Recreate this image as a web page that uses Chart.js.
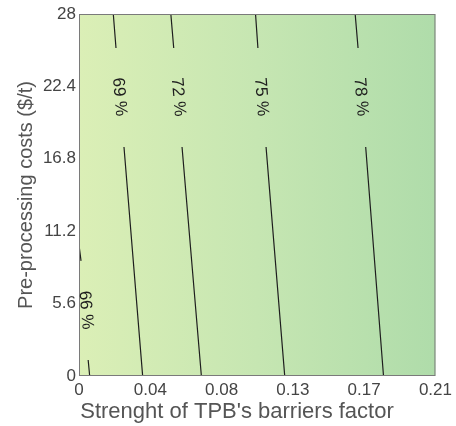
<!DOCTYPE html>
<html>
<head>
<meta charset="utf-8">
<script src="https://cdn.jsdelivr.net/npm/chart.js@4.4.1/dist/chart.umd.min.js"></script>
<style>
  html, body { margin: 0; padding: 0; background: #fff; }
  #wrap { width: 456px; height: 426px; }
</style>
</head>
<body>
<div id="wrap"><canvas id="chart"></canvas></div>
<script>
// ---- data ----
const contourLevels = ["66 %", "69 %", "72 %", "75 %", "78 %"];

// each contour: top point, label gap start, label gap end, bottom point
const contourX = [
    [0.0000, 0.0012, 0.0054, 0.0063],
    [0.0202, 0.0218, 0.0265, 0.0375],
    [0.0541, 0.0558, 0.0607, 0.0721],
    [0.1040, 0.1054, 0.1102, 0.1212],
    [0.1627, 0.1644, 0.1689, 0.1794]
];
const contourY = [
    [10.13, 8.90, 1.24, 0],
    [28, 25.37, 17.71, 0],
    [28, 25.37, 17.71, 0],
    [28, 25.37, 17.71, 0],
    [28, 25.37, 17.71, 0]
];

const labelX = [0.0040, 0.0237, 0.0583, 0.1073, 0.1660];
const labelY = [5.1, 21.58, 21.58, 21.58, 21.58];

const xTicks = [0, 0.042, 0.084, 0.126, 0.168, 0.21];
const xTickLabels = ["0", "0.04", "0.08", "0.13", "0.17", "0.21"];
const yTicks = [0, 5.6, 11.2, 16.8, 22.4, 28];
const yTickLabels = ["0", "5.6", "11.2", "16.8", "22.4", "28"];

const xTitle = "Strenght of TPB's barriers factor";
const yTitle = "Pre-processing costs ($/t)";

const FONT = "'Liberation Sans', Arial, sans-serif";

// ---- build datasets ----
function contourData(i) {
    const xs = contourX[i], ys = contourY[i];
    return [
        { x: xs[0], y: ys[0] },
        { x: xs[1], y: ys[1] },
        { x: null, y: null },
        { x: xs[2], y: ys[2] },
        { x: xs[3], y: ys[3] }
    ];
}

const datasets = contourLevels.map((lvl, i) => ({
    label: lvl,
    data: contourData(i),
    showLine: true,
    spanGaps: false,
    borderColor: "#1e1e1e",
    borderWidth: 1.2,
    pointRadius: 0,
    tension: 0
}));

// ---- plugins ----
const backgroundFill = {
    id: "backgroundFill",
    beforeDatasetsDraw(chart) {
        const { ctx, chartArea: a } = chart;
        const g = ctx.createLinearGradient(a.left, 0, a.right, 0);
        g.addColorStop(0, "#dbefb6");
        g.addColorStop(0.5, "#c6e6b2");
        g.addColorStop(1, "#afdcaa");
        ctx.save();
        ctx.fillStyle = g;
        ctx.fillRect(a.left, a.top, a.right - a.left, a.bottom - a.top);
        ctx.restore();
    },
    afterDatasetsDraw(chart) {
        const { ctx, chartArea: a } = chart;
        ctx.save();
        ctx.strokeStyle = "#7a7a7a";
        ctx.lineWidth = 1;
        ctx.strokeRect(a.left + 0.5, a.top + 0.5, a.right - a.left - 1, a.bottom - a.top - 1);
        ctx.restore();
    }
};

const contourLabels = {
    id: "contourLabels",
    afterDatasetsDraw(chart) {
        const { ctx, scales } = chart;
        ctx.save();
        ctx.font = "17px " + FONT;
        ctx.fillStyle = "#1e1e1e";
        ctx.textAlign = "center";
        ctx.textBaseline = "middle";
        contourLevels.forEach((lvl, i) => {
            const xs = contourX[i], ys = contourY[i];
            const x0 = scales.x.getPixelForValue(xs[0]), y0 = scales.y.getPixelForValue(ys[0]);
            const x1 = scales.x.getPixelForValue(xs[3]), y1 = scales.y.getPixelForValue(ys[3]);
            const ang = Math.atan2(y1 - y0, x1 - x0);
            ctx.save();
            ctx.translate(scales.x.getPixelForValue(labelX[i]), scales.y.getPixelForValue(labelY[i]));
            ctx.rotate(ang);
            ctx.fillText(lvl, 0, 0);
            ctx.restore();
        });
        ctx.restore();
    }
};

// axis titles are not centred on the plot area in the original
const axisTitles = {
    id: "axisTitles",
    afterDraw(chart) {
        const { ctx, chartArea: a } = chart;
        ctx.save();
        ctx.fillStyle = "#555";
        ctx.textAlign = "center";
        ctx.textBaseline = "alphabetic";

        ctx.font = "22px " + FONT;
        ctx.fillText(xTitle, 237, 418);

        ctx.font = "20px " + FONT;
        ctx.translate(32, (a.top + a.bottom) / 2);
        ctx.rotate(-Math.PI / 2);
        ctx.fillText(yTitle, 0, 0);
        ctx.restore();
    }
};

// ---- chart ----
const tickFont = { family: FONT, size: 17 };

new Chart(document.getElementById("chart"), {
    type: "scatter",
    data: { datasets },
    options: {
        responsive: true,
        maintainAspectRatio: false,
        animation: false,
        layout: { padding: { top: 14, right: 13, left: 0, bottom: 0 } },
        plugins: {
            legend: { display: false },
            tooltip: { enabled: false }
        },
        scales: {
            x: {
                type: "linear",
                min: 0,
                max: 0.21,
                afterBuildTicks: s => { s.ticks = xTicks.map(v => ({ value: v })); },
                afterFit: s => { s.height = 50; },
                grid: { display: false, drawTicks: false },
                border: { display: false },
                ticks: {
                    padding: 4,
                    color: "#444",
                    font: tickFont,
                    maxRotation: 0,
                    callback: (v, i) => xTickLabels[i]
                }
            },
            y: {
                type: "linear",
                min: 0,
                max: 28,
                afterBuildTicks: s => { s.ticks = yTicks.map(v => ({ value: v })); },
                afterFit: s => { s.width = 79; },
                grid: { display: false, drawTicks: false },
                border: { display: false },
                ticks: {
                    padding: 3,
                    color: "#444",
                    font: tickFont,
                    callback: (v, i) => yTickLabels[i]
                }
            }
        }
    },
    plugins: [backgroundFill, contourLabels, axisTitles]
});
</script>
</body>
</html>
